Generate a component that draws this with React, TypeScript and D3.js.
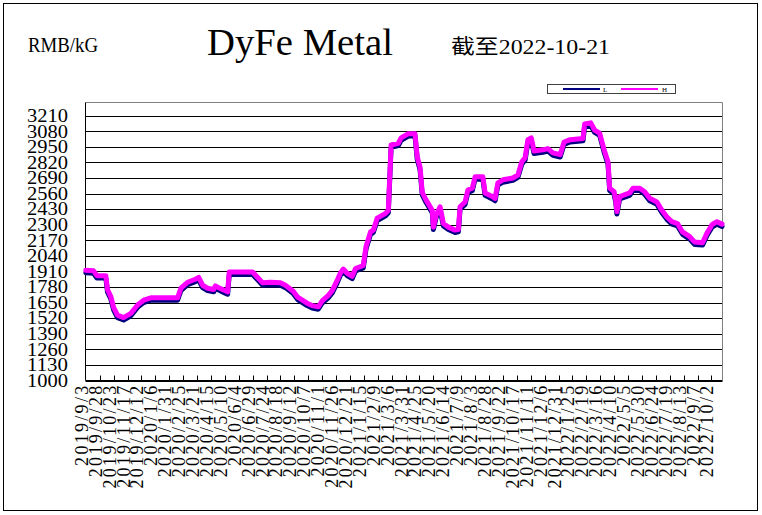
import React from "react";
import * as d3 from "d3";

const dates: string[] = [
  "2019-09-03","2019-09-17","2019-09-23","2019-10-09","2019-10-12","2019-10-18","2019-10-23","2019-10-30","2019-11-10","2019-11-23",
  "2019-12-05","2019-12-16","2019-12-29","2020-02-15","2020-02-21","2020-03-04","2020-03-18","2020-03-24","2020-03-31","2020-04-09",
  "2020-04-20","2020-04-23","2020-04-29","2020-05-08","2020-05-15","2020-05-18","2020-06-29","2020-07-08","2020-07-17","2020-07-31",
  "2020-08-18","2020-08-27","2020-09-10","2020-09-18","2020-10-05","2020-10-14","2020-10-25","2020-11-01","2020-11-12","2020-11-19",
  "2020-11-28","2020-12-04","2020-12-09","2020-12-16","2020-12-25","2020-12-31","2021-01-14","2021-01-19","2021-01-27","2021-02-01",
  "2021-02-08","2021-02-23","2021-02-28","2021-03-05","2021-03-18","2021-03-23","2021-04-05","2021-04-17","2021-04-21","2021-04-26",
  "2021-04-30","2021-05-07","2021-05-18","2021-05-20","2021-05-25","2021-06-01","2021-06-07","2021-06-16","2021-06-28","2021-07-04",
  "2021-07-07","2021-07-16","2021-07-21","2021-07-29","2021-08-03","2021-08-17","2021-08-21","2021-09-03","2021-09-08","2021-09-13",
  "2021-09-22","2021-10-10","2021-10-19","2021-10-26","2021-11-01","2021-11-06","2021-11-12","2021-11-17","2021-12-03","2021-12-12",
  "2021-12-21","2022-01-03","2022-01-10","2022-01-21","2022-02-13","2022-02-16","2022-02-27","2022-03-06","2022-03-15","2022-03-23",
  "2022-03-30","2022-04-02","2022-04-10","2022-04-13","2022-04-15","2022-04-20","2022-05-08","2022-05-14","2022-05-26","2022-06-04",
  "2022-06-13","2022-06-26","2022-07-05","2022-07-14","2022-07-23","2022-08-02","2022-08-11","2022-08-24","2022-09-02","2022-09-16",
  "2022-09-24","2022-10-03","2022-10-12","2022-10-21"
];

const highValues: number[] = [
  1920,1915,1875,1875,1760,1700,1610,1545,1525,1560,
  1630,1670,1690,1690,1770,1820,1845,1860,1795,1770,
  1760,1790,1775,1755,1740,1905,1905,1860,1815,1820,
  1815,1795,1745,1695,1645,1625,1615,1665,1710,1750,
  1835,1900,1930,1895,1870,1935,1960,2120,2240,2255,
  2355,2395,2420,2965,2980,3025,3060,3060,2865,2780,
  2570,2505,2420,2280,2380,2450,2310,2280,2255,2260,
  2450,2490,2590,2605,2700,2700,2565,2535,2520,2650,
  2675,2690,2715,2825,2860,3010,3025,2915,2925,2935,
  2900,2885,2990,3010,3020,3140,3150,3090,3065,2925,
  2825,2605,2575,2505,2410,2535,2565,2605,2605,2575,
  2520,2490,2420,2365,2325,2310,2240,2200,2155,2150,
  2230,2300,2325,2305
];

const lowValues: number[] = [
  1900,1895,1855,1855,1740,1680,1590,1525,1505,1540,
  1610,1650,1670,1670,1750,1800,1825,1840,1775,1750,
  1740,1770,1755,1735,1720,1885,1885,1840,1795,1800,
  1795,1775,1725,1675,1625,1605,1595,1645,1690,1730,
  1815,1880,1910,1875,1850,1915,1940,2100,2220,2235,
  2335,2375,2400,2945,2960,3005,3040,3040,2845,2760,
  2550,2485,2400,2260,2360,2430,2290,2260,2235,2240,
  2430,2470,2570,2585,2680,2680,2545,2515,2500,2630,
  2655,2670,2695,2805,2840,2990,3005,2895,2905,2915,
  2880,2865,2970,2990,3000,3120,3130,3070,3045,2905,
  2805,2585,2555,2485,2390,2515,2545,2585,2585,2555,
  2500,2470,2400,2345,2305,2290,2220,2180,2135,2130,
  2210,2280,2305,2285
];

const xTickLabels: string[] = [
  "2019/9/3","2019/9/28","2019/10/23","2019/11/17","2019/12/12","2020/1/6","2020/1/31","2020/2/25","2020/3/21","2020/4/15",
  "2020/5/10","2020/6/4","2020/6/29","2020/7/24","2020/8/18","2020/9/12","2020/10/7","2020/11/1","2020/11/26","2020/12/21",
  "2021/1/15","2021/2/9","2021/3/6","2021/3/31","2021/4/25","2021/5/20","2021/6/14","2021/7/9","2021/8/3","2021/8/28",
  "2021/9/22","2021/10/17","2021/11/11","2021/12/6","2021/12/31","2022/1/25","2022/2/19","2022/3/16","2022/4/10","2022/5/5",
  "2022/5/30","2022/6/24","2022/7/19","2022/8/13","2022/9/7","2022/10/2"
];

const yTickValues: number[] = [1000,1130,1260,1390,1520,1650,1780,1910,2040,2170,2300,2430,2560,2690,2820,2950,3080,3210];

const seriesNames = ["L", "H"];
const seriesColors = ["#000080", "#FF00FF"];

const START_DATE = "2019-09-03";
const END_DATE = "2022-10-21";
const TITLE = "DyFe Metal";
const UNIT = "RMB/kG";
const AS_OF = "截至2022-10-21";

const W = 762, H = 515;
const plot = { left: 85.5, right: 722.5, top: 102.5, bottom: 380.5 };

export default function App() {
  const parseDash = d3.timeParse("%Y-%m-%d");
  const parseSlash = d3.timeParse("%Y/%m/%d");
  const x = d3.scaleTime()
    .domain([parseDash(START_DATE)!, parseDash(END_DATE)!])
    .range([plot.left + 0.3, plot.right - 0.5]);
  const y = d3.scaleLinear().domain([1000, 3320]).range([plot.bottom, plot.top]);

  const pts = dates.map((d) => parseDash(d)!);
  const line = d3.line<[Date, number]>()
    .x((d) => x(d[0]))
    .y((d) => y(d[1]))
    .curve(d3.curveLinear);

  const lowPath = line(pts.map((d, i) => [d, lowValues[i]] as [Date, number]))!;
  const highPath = line(pts.map((d, i) => [d, highValues[i]] as [Date, number]))!;

  const tickDates = xTickLabels.map((s) => parseSlash(s)!);

  const serif = "'Liberation Serif', 'DejaVu Serif', serif";
  const cjk = "'Liberation Serif', 'Noto Sans CJK SC', serif";

  return (
    <div style={{ width: W, height: H }}>
      <style>{`body{margin:0;background:#fff}`}</style>
      <svg width={W} height={H} style={{ display: "block" }}>
        <rect x={0} y={0} width={W} height={H} fill="#fff" />
        <rect x={3.5} y={3.5} width={754} height={507} fill="none" stroke="#000" strokeWidth={1} />

        {/* titles */}
        <text x={28} y={52} fontFamily={serif} fontSize={20} textLength={70} lengthAdjust="spacingAndGlyphs">{UNIT}</text>
        <text x={207} y={55} fontFamily={serif} fontSize={38} textLength={186} lengthAdjust="spacingAndGlyphs">{TITLE}</text>
        <text x={451} y={54} fontFamily={cjk} fontSize={20} textLength={159} lengthAdjust="spacingAndGlyphs">{AS_OF}</text>

        {/* legend */}
        <rect x={547.5} y={84.5} width={128} height={9} fill="#fff" stroke="#404040" strokeWidth={1} />
        <line x1={563} x2={600} y1={89} y2={89} stroke={seriesColors[0]} strokeWidth={2} />
        <text x={603} y={92} fontFamily={serif} fontSize={7}>{seriesNames[0]}</text>
        <line x1={621} x2={658} y1={89} y2={89} stroke={seriesColors[1]} strokeWidth={2} />
        <text x={662} y={92} fontFamily={serif} fontSize={7}>{seriesNames[1]}</text>

        {/* gridlines */}
        {yTickValues.map((v) => (
          <line key={"g" + v} x1={plot.left} x2={plot.right} y1={Math.round(y(v)) + 0.5} y2={Math.round(y(v)) + 0.5} stroke="#000" strokeWidth={1} />
        ))}
        {/* plot border top/right */}
        <line x1={plot.left} x2={plot.right} y1={plot.top} y2={plot.top} stroke="#808080" strokeWidth={1} />
        <line x1={plot.right} x2={plot.right} y1={plot.top} y2={plot.bottom} stroke="#808080" strokeWidth={1} />

        {/* axes */}
        <line x1={plot.left} x2={plot.left} y1={plot.top} y2={plot.bottom} stroke="#000" strokeWidth={1} />
        <line x1={plot.left} x2={plot.right} y1={plot.bottom} y2={plot.bottom} stroke="#000" strokeWidth={1} />
        {tickDates.slice(1).map((d, i) => (
          <line key={"t" + i} x1={Math.round(x(d)) + 0.5} x2={Math.round(x(d)) + 0.5} y1={plot.bottom - 5} y2={plot.bottom} stroke="#000" strokeWidth={1} />
        ))}

        {/* y labels */}
        {yTickValues.map((v) => (
          <text key={"yl" + v} x={68} y={y(v)} dy="0.35em" textAnchor="end" fontFamily={serif} fontSize={18}
            textLength={41} lengthAdjust="spacingAndGlyphs">{v}</text>
        ))}

        {/* x labels */}
        {tickDates.map((d, i) => (
          <text key={"xl" + i} transform={`translate(${x(d) + 2},${plot.bottom + 3}) rotate(-90)`} textAnchor="end"
            fontFamily={serif} fontSize={18} letterSpacing={2.3}>{xTickLabels[i]}</text>
        ))}

        {/* series */}
        <path d={lowPath} fill="none" stroke={seriesColors[0]} strokeWidth={5} strokeLinejoin="round" strokeLinecap="round" />
        <path d={highPath} fill="none" stroke={seriesColors[1]} strokeWidth={5} strokeLinejoin="round" strokeLinecap="round" />
      </svg>
    </div>
  );
}
